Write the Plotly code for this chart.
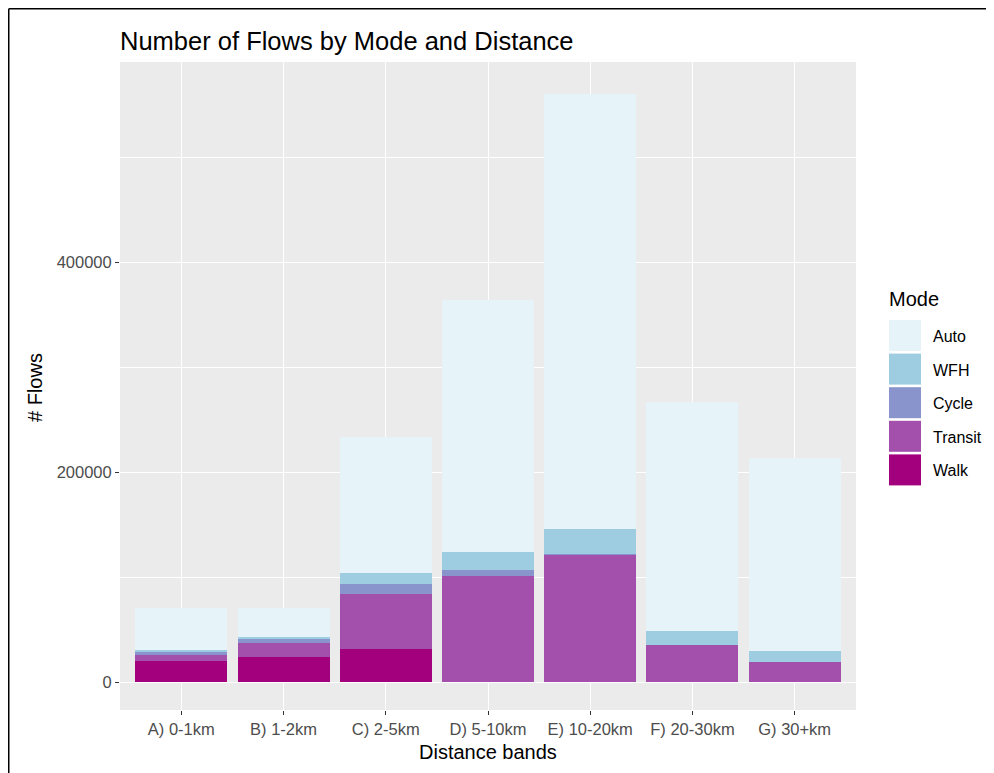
import plotly.graph_objects as go

# ---- data ----
bands = ["A) 0-1km", "B) 1-2km", "C) 2-5km", "D) 5-10km", "E) 10-20km", "F) 20-30km", "G) 30+km"]
walk = [20300, 23500, 31400, 0, 0, 0, 0]
transit = [5400, 13900, 52700, 100700, 121200, 35200, 18600]
cycle = [2900, 3600, 9200, 5700, 500, 0, 0]
wfh = [1900, 2100, 10500, 17400, 24000, 13000, 10700]
auto = [40300, 27700, 129200, 240000, 414700, 218300, 183800]

modes = ["Walk", "Transit", "Cycle", "WFH", "Auto"]
series = [walk, transit, cycle, wfh, auto]
colors = ["#A3007E", "#A34FAC", "#8894CB", "#9ECDE2", "#E6F4F9"]

# ---- layout geometry (page pixels; the page has an 8px body margin) ----
OFF = 8
W, H = 994 - OFF, 773 - OFF
PL, PR, PT, PB = 120, 856, 62, 710          # panel edges on page
ML, MT = PL - OFF, PT - OFF
MR, MB = W - (PR - OFF), H - (PB - OFF)
PW = W - ML - MR
PH = H - MT - MB


def px(x):
    return (x - OFF - ML) / PW


def py(y):
    return (H - MB - (y - OFF)) / PH


fig = go.Figure()
for name, vals, col in zip(modes, series, colors):
    fig.add_trace(go.Bar(x=bands, y=vals, name=name, marker=dict(color=col, line=dict(width=0)),
                         width=0.9, showlegend=False))

# manual ggplot-style legend
shapes = []
annotations = []
annotations.append(dict(x=px(887), y=py(299), xref="paper", yref="paper", text="Mode", showarrow=False,
                        xanchor="left", yanchor="middle", font=dict(size=20, color="black")))
legend_order = list(zip(modes, colors))[::-1]
for i, (name, col) in enumerate(legend_order):
    top = 320 + i * 33.6
    shapes.append(dict(type="rect", xref="paper", yref="paper", x0=px(889), x1=px(921),
                       y0=py(top), y1=py(top + 31), fillcolor=col, line=dict(width=0), layer="above"))
    annotations.append(dict(x=px(931), y=py(top + 16.5), xref="paper", yref="paper", text=name, showarrow=False,
                            xanchor="left", yanchor="middle", font=dict(size=16, color="black")))

# frame lines (top and left)
shapes.append(dict(type="line", xref="paper", yref="paper", x0=px(8.75), x1=px(994), y0=py(8.75), y1=py(8.75),
                   line=dict(color="black", width=1.5)))
shapes.append(dict(type="line", xref="paper", yref="paper", x0=px(8.75), x1=px(8.75), y0=py(8.75), y1=py(773),
                   line=dict(color="black", width=1.5)))

# axis titles
annotations.append(dict(x=px(488), y=py(752), xref="paper", yref="paper", text="Distance bands", showarrow=False,
                        xanchor="center", yanchor="middle", font=dict(size=20, color="black")))
annotations.append(dict(x=px(35), y=py(388), xref="paper", yref="paper", text="# Flows", showarrow=False,
                        textangle=-90, xanchor="center", yanchor="middle", font=dict(size=20, color="black")))

fig.update_layout(
    width=W, height=H,
    margin=dict(l=ML, r=MR, t=MT, b=MB),
    barmode="stack",
    bargap=0.1,
    paper_bgcolor="white",
    plot_bgcolor="#EBEBEB",
    font=dict(family="Liberation Sans, Arial, sans-serif"),
    title=dict(text="Number of Flows by Mode and Distance", x=(120 - OFF) / W, xanchor="left",
               y=1 - (41 - OFF) / H, yanchor="middle", font=dict(size=25.5, color="black")),
    shapes=shapes,
    annotations=annotations,
    showlegend=False,
)
fig.update_xaxes(
    type="category", range=[-0.6, 6.6], showgrid=True, gridcolor="white", gridwidth=1.3,
    ticks="outside", ticklen=4, tickcolor="#333333", tickwidth=1.2,
    tickfont=dict(size=16.5, color="#4D4D4D"), showline=False, zeroline=False,
)
fig.update_yaxes(
    range=[-26667, 590476], tickvals=[0, 200000, 400000], ticktext=["0", "200000", "400000"],
    showgrid=True, gridcolor="white", gridwidth=1.3,
    minor=dict(tickvals=[100000, 300000, 500000], showgrid=True, gridcolor="white", gridwidth=0.6, ticks=""),
    ticks="outside", ticklen=4, tickcolor="#333333", tickwidth=1.2,
    tickfont=dict(size=16.5, color="#4D4D4D"), showline=False, zeroline=False,
)

fig.write_html("out.html")
